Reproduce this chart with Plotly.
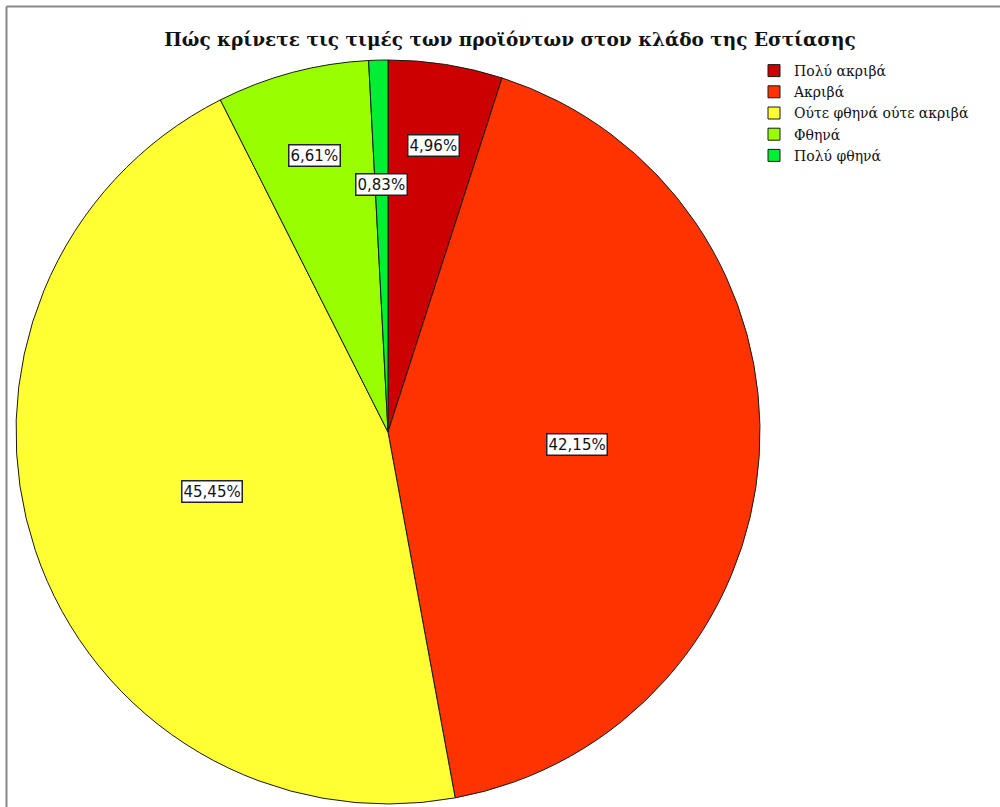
import math
import plotly.graph_objects as go

# Survey answers: how restaurant-sector prices are rated
categories = ["Πολύ ακριβά", "Ακριβά", "Ούτε φθηνά ούτε ακριβά", "Φθηνά", "Πολύ φθηνά"]
percentages = [4.96, 42.15, 45.45, 6.61, 0.83]
value_labels = ["4,96%", "42,15%", "45,45%", "6,61%", "0,83%"]

colors = ["#CC0000", "#FF3300", "#FFFF33", "#99FF00", "#00EE33"]

W, H = 1000, 807
# pie centre and radius in pixels
CX, CY, R = 388, 432, 372
# radial placement of each boxed label, as a fraction of the radius
label_radius = [0.78, 0.51, 0.50, 0.77, 0.665]

fig = go.Figure(
    go.Pie(
        labels=categories,
        values=percentages,
        sort=False,
        direction="clockwise",
        rotation=0,
        textinfo="none",
        hoverinfo="label+percent",
        marker=dict(colors=colors, line=dict(color="#1a1a1a", width=1)),
        domain=dict(x=[(CX - R) / W, (CX + R) / W],
                    y=[1 - (CY + R) / H, 1 - (CY - R) / H]),
    )
)

# boxed percentage labels at each slice's mid-angle
total = sum(percentages)
cum = 0.0
annotations = []
for val, txt, rf in zip(percentages, value_labels, label_radius):
    mid = (cum + val / 2) / total * 2 * math.pi
    cum += val
    px = CX + rf * R * math.sin(mid)
    py = CY - rf * R * math.cos(mid)
    annotations.append(dict(
        x=px / W, y=1 - py / H, xref="paper", yref="paper",
        xanchor="center", yanchor="middle",
        text=txt, showarrow=False,
        font=dict(family="DejaVu Sans", size=15, color="#111111"),
        bgcolor="white", bordercolor="#222222", borderwidth=1.5, borderpad=1,
    ))

fig.update_layout(
    width=W, height=H,
    margin=dict(l=0, r=0, t=0, b=0),
    paper_bgcolor="white",
    title=dict(
        text="<b>Πώς κρίνετε τις τιμές των προϊόντων στον κλάδο της Εστίασης</b>",
        x=0.51, xanchor="center", y=1 - 40 / H, yanchor="middle",
        font=dict(family="DejaVu Serif", size=18.5, color="#111111"),
    ),
    legend=dict(
        x=754 / W, y=1 - 55 / H, xanchor="left", yanchor="top",
        font=dict(family="DejaVu Serif", size=14, color="#111111"),
        bgcolor="rgba(0,0,0,0)", tracegroupgap=0, itemwidth=30,
    ),
    annotations=annotations,
    shapes=[
        dict(type="line", xref="paper", yref="paper",
             x0=6.5 / W, x1=6.5 / W, y0=0, y1=1 - 6.5 / H,
             line=dict(color="#888888", width=2)),
        dict(type="line", xref="paper", yref="paper",
             x0=6.5 / W, x1=1, y0=1 - 6.5 / H, y1=1 - 6.5 / H,
             line=dict(color="#888888", width=2)),
    ],
)

fig.write_html("out.html")
